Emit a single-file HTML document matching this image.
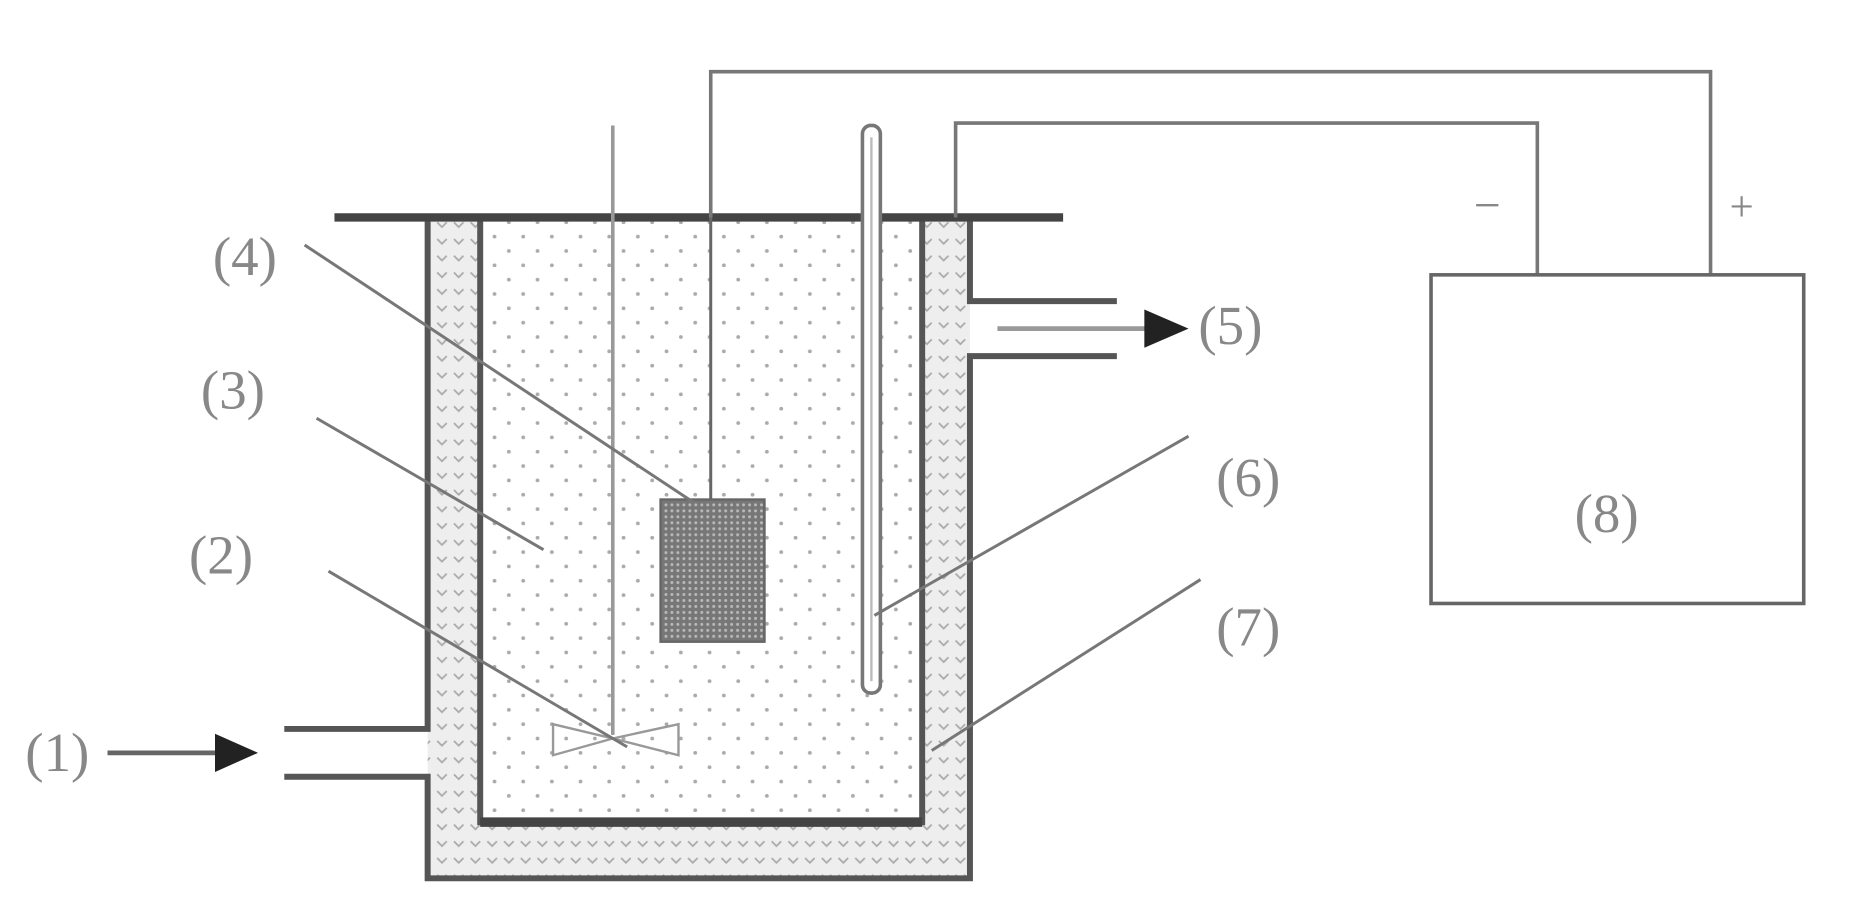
<!DOCTYPE html>
<html><head><style>html,body{margin:0;padding:0;background:#fff}svg{display:block}</style></head>
<body>
<svg width="1873" height="907" viewBox="0 0 1568 759" preserveAspectRatio="none" xmlns="http://www.w3.org/2000/svg">
<defs>
<pattern id="dots" width="24" height="24" patternUnits="userSpaceOnUse">
<circle cx="6" cy="6" r="1.6" fill="#aaa"/><circle cx="18" cy="18" r="1.6" fill="#aaa"/>
</pattern>
<pattern id="hatch" width="14" height="14" patternUnits="userSpaceOnUse">
<rect width="14" height="14" fill="#eee"/><path d="M2 4 l4 4 l4 -4" stroke="#aaa" stroke-width="1.5" fill="none"/>
</pattern>
<pattern id="mesh" width="5" height="5" patternUnits="userSpaceOnUse">
<rect width="5" height="5" fill="#777"/><circle cx="2.5" cy="2.5" r="1.2" fill="#bbb"/>
</pattern>
</defs>
<g font-family="Liberation Serif, serif" fill="#888" font-size="46" text-anchor="middle">
<!-- jacket fill -->
<path d="M358 182 H812 V252 H812 V298 V735 H358 Z" fill="url(#hatch)"/>
<!-- inner fill -->
<rect x="402" y="182" width="370" height="506" fill="#fff"/>
<rect x="402" y="182" width="370" height="506" fill="url(#dots)"/>
<!-- outer jacket -->
<path d="M358 182 V610 H238 M238 650 H358 V735 H812 V298 H935 M935 252 H812 V182" stroke="#555" stroke-width="5" fill="none"/>
<!-- inner vessel -->
<path d="M402 182 V688 H772 V182" stroke="#555" stroke-width="5" fill="none"/>
<line x1="402" y1="688" x2="772" y2="688" stroke="#444" stroke-width="8"/>
<line x1="280" y1="182" x2="890" y2="182" stroke="#444" stroke-width="7"/>
<!-- stirrer -->
<line x1="513" y1="105" x2="513" y2="615" stroke="#999" stroke-width="3"/>
<path d="M463 606 L513 618 L463 632 Z M568 606 L513 618 L568 632 Z" stroke="#999" stroke-width="2" fill="none"/>
<!-- electrode -->
<line x1="595" y1="182" x2="595" y2="418" stroke="#666" stroke-width="2.5"/>
<rect x="553" y="418" width="87" height="119" fill="url(#mesh)" stroke="#666" stroke-width="2"/>
<!-- reference tube -->
<rect x="722" y="105" width="15" height="475" rx="7" fill="#fff" stroke="#777" stroke-width="3"/>
<line x1="729.5" y1="115" x2="729.5" y2="570" stroke="#bbb" stroke-width="2"/>
<!-- wires -->
<path d="M595 182 V60 H1432 V230" stroke="#777" stroke-width="3" fill="none"/>
<path d="M800 182 V103 H1287 V230" stroke="#777" stroke-width="3" fill="none"/>
<rect x="1198" y="230" width="312" height="275" fill="none" stroke="#666" stroke-width="3"/>
<text x="1245" y="185" font-size="40">−</text>
<text x="1458" y="185" font-size="36">+</text>
<!-- arrows -->
<line x1="90" y1="630" x2="185" y2="630" stroke="#666" stroke-width="4"/>
<path d="M180 614 L216 630 L180 646 Z" fill="#222"/>
<line x1="835" y1="275" x2="962" y2="275" stroke="#999" stroke-width="4"/>
<path d="M958 259 L995 275 L958 291 Z" fill="#222"/>
<!-- leader lines -->
<g stroke="#777" stroke-width="2.5">
<line x1="255" y1="205" x2="580" y2="420"/>
<line x1="265" y1="350" x2="455" y2="460"/>
<line x1="275" y1="478" x2="525" y2="625"/>
<line x1="995" y1="365" x2="732" y2="515"/>
<line x1="1005" y1="485" x2="780" y2="628"/>
</g>
<text x="205" y="230">(4)</text>
<text x="195" y="342">(3)</text>
<text x="185" y="480">(2)</text>
<text x="48" y="645">(1)</text>
<text x="1030" y="288">(5)</text>
<text x="1045" y="415">(6)</text>
<text x="1045" y="540">(7)</text>
<text x="1345" y="445">(8)</text>
</g>
</svg>
</body></html>
